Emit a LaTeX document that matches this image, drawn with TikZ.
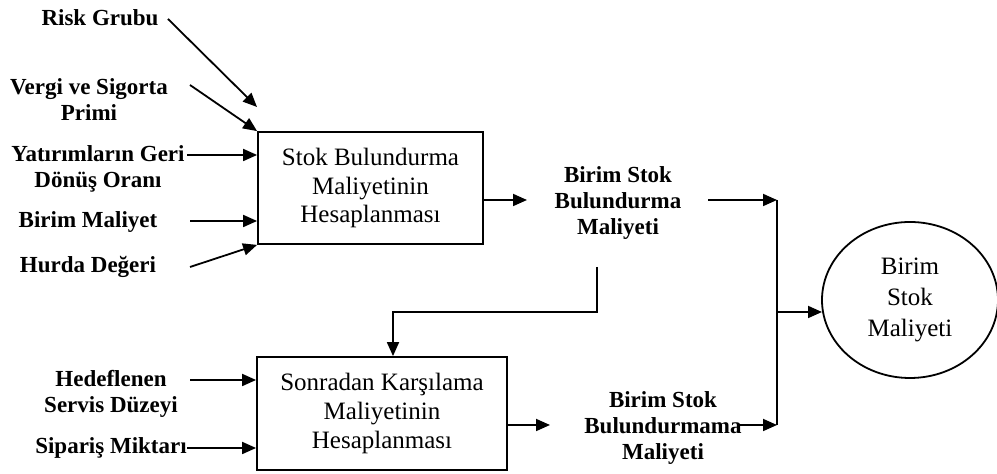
\documentclass[tikz,border=0pt]{standalone}
\usepackage{fontspec}
\setmainfont{Liberation Serif}
\usetikzlibrary{arrows.meta,shapes.geometric,calc}
\begin{document}
\begin{tikzpicture}[x=0.5pt,y=-0.5pt,
  line width=0.9pt,
  arr/.style={-{Triangle[length=7pt,width=6pt]}},
  lbl/.style={font=\fontsize{11.5}{13}\selectfont\bfseries,align=center,inner sep=0pt},
  procbox/.style={draw,align=center,inner sep=0pt,font=\fontsize{12.5}{14.3}\selectfont},
  result/.style={draw,ellipse,align=center,inner sep=0pt,font=\fontsize{12.5}{15.5}\selectfont}]
\useasboundingbox (0,0) rectangle (997,474);

% processing boxes and final result
\node[procbox,minimum width=112.5pt,minimum height=56pt] (box1) at (370.5,188)
  {Stok Bulundurma\\Maliyetinin\\Hesaplanması};
\node[procbox,minimum width=125pt,minimum height=56.5pt] (box2) at (382,413.5)
  {Sonradan Karşılama\\Maliyetinin\\Hesaplanması};
\node[result,minimum width=88pt,minimum height=78pt] (total) at (910,300)
  {Birim\\Stok\\Maliyeti};

% inputs of the first box
\node[lbl] (risk) at (100,18) {Risk Grubu};
\node[lbl] (vergi) at (89,100) {Vergi ve Sigorta\\Primi};
\node[lbl] (yat) at (98,169) {Yatırımların Geri\\Dönüş Oranı};
\node[lbl] (bm) at (88,222) {Birim Maliyet};
\node[lbl] (hurda) at (88,267) {Hurda Değeri};

% inputs of the second box
\node[lbl] (hedef) at (111,394) {Hedeflenen\\Servis Düzeyi};
\node[lbl] (sip) at (111,448) {Sipariş Miktarı};

% intermediate results
\node[lbl] (bsb) at (618,203) {Birim Stok\\Bulundurma\\Maliyeti};
\node[lbl] (bsbm) at (663,428) {Birim Stok\\Bulundurmama\\Maliyeti};

% connector ends
\coordinate (riskT) at (168,19);
\coordinate (riskH) at (257,107);
\coordinate (vergiT) at (190,85);
\coordinate (yatT) at (187,155);
\coordinate (bmT) at (190,221);
\coordinate (hurdaT) at (190,267);
\coordinate (hedefT) at (190,380);
\coordinate (sipT) at (187,448);
\coordinate (bsbIn) at (527,200);
\coordinate (bsbOut) at (708,200);
\coordinate (fbTop) at (597,267);
\coordinate (fbMid) at (597,312);
\coordinate (fbLeft) at (393,312);
\coordinate (bsbmIn) at (550,425);
\coordinate (bsbmOut) at (737,425);
\coordinate (colTop) at (777,200);
\coordinate (colMid) at (777,312);
\coordinate (colBot) at (777,425);
\coordinate (totIn) at (822,312);

% input arrows
\draw[arr] (riskT) -- (riskH);
\draw[arr] (vergiT) -- (box1.north west);
\draw[arr] (yatT) -- (yatT -| box1.west);
\draw[arr] (bmT) -- (bmT -| box1.west);
\draw[arr] (hurdaT) -- (box1.south west);
\draw[arr] (hedefT) -- (hedefT -| box2.west);
\draw[arr] (sipT) -- (sipT -| box2.west);

% outputs
\draw[arr] (bsbIn -| box1.east) -- (bsbIn);
\draw[arr] (bsbmIn -| box2.east) -- (bsbmIn);
\draw[arr] (fbTop) -- (fbMid) -- (fbLeft) -- (fbLeft |- box2.north);

% collector towards the total cost
\draw[arr] (bsbOut) -- (colTop);
\draw[arr] (bsbmOut) -- (colBot);
\draw (colTop) -- (colBot);
\draw[arr] (colMid) -- (totIn);
\end{tikzpicture}
\end{document}
